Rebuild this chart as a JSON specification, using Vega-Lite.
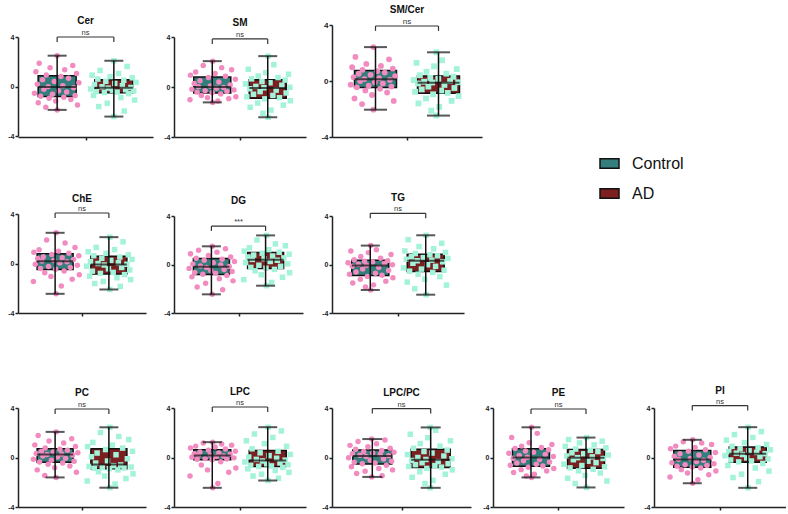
{
"$schema":"https://vega.github.io/schema/vega-lite/v6.json",
"background":"white",
"padding":{"left":7,"top":4,"right":0,"bottom":0},
"columns":5,
"spacing":{"row":77,"column":5},
"bounds":"flush",
"align":"each",
"datasets":{
"box":[
{"p":"Cer","g":"Control","lo":-1.89,"q1":-0.81,"md":-0.05,"q3":0.86,"hi":2.49,"s":"ns"},
{"p":"Cer","g":"AD","lo":-2.43,"q1":-0.5,"md":-0.1,"q3":0.54,"hi":2.08,"s":"ns"},
{"p":"SM","g":"Control","lo":-1.23,"q1":-0.48,"md":0,"q3":0.8,"hi":2.07,"s":"ns"},
{"p":"SM","g":"AD","lo":-2.42,"q1":-0.89,"md":-0.08,"q3":0.59,"hi":2.47,"s":"ns"},
{"p":"SM/Cer","g":"Control","lo":-2.05,"q1":-0.47,"md":0.12,"q3":0.75,"hi":2.42,"s":"ns"},
{"p":"SM/Cer","g":"AD","lo":-2.47,"q1":-0.87,"md":-0.12,"q3":0.35,"hi":2.05,"s":"ns"},
{"p":"ChE","g":"Control","lo":-2.45,"q1":-0.49,"md":0.19,"q3":0.78,"hi":2.48,"s":"ns"},
{"p":"ChE","g":"AD","lo":-2.1,"q1":-0.84,"md":-0.08,"q3":0.59,"hi":2.13,"s":"ns"},
{"p":"DG","g":"Control","lo":-2.46,"q1":-0.82,"md":-0.19,"q3":0.49,"hi":1.5,"s":"***"},
{"p":"DG","g":"AD","lo":-1.75,"q1":-0.33,"md":0.4,"q3":0.98,"hi":2.4,"s":"***"},
{"p":"TG","g":"Control","lo":-2.1,"q1":-0.9,"md":-0.08,"q3":0.36,"hi":1.56,"s":"ns"},
{"p":"TG","g":"AD","lo":-2.49,"q1":-0.58,"md":0.3,"q3":0.85,"hi":2.41,"s":"ns"},
{"p":"PC","g":"Control","lo":-1.61,"q1":-0.38,"md":0.24,"q3":0.7,"hi":2.07,"s":"ns"},
{"p":"PC","g":"AD","lo":-2.44,"q1":-0.91,"md":-0.56,"q3":0.7,"hi":2.44,"s":"ns"},
{"p":"LPC","g":"Control","lo":-2.45,"q1":-0.19,"md":0.16,"q3":0.62,"hi":1.24,"s":"ns"},
{"p":"LPC","g":"AD","lo":-1.86,"q1":-0.73,"md":-0.24,"q3":0.57,"hi":2.45,"s":"ns"},
{"p":"LPC/PC","g":"Control","lo":-1.57,"q1":-0.53,"md":0.13,"q3":0.61,"hi":1.49,"s":"ns"},
{"p":"LPC/PC","g":"AD","lo":-2.45,"q1":-0.8,"md":-0.19,"q3":0.67,"hi":2.43,"s":"ns"},
{"p":"PE","g":"Control","lo":-1.61,"q1":-0.7,"md":0,"q3":0.7,"hi":2.44,"s":"ns"},
{"p":"PE","g":"AD","lo":-2.42,"q1":-0.86,"md":-0.03,"q3":0.64,"hi":1.61,"s":"ns"},
{"p":"PI","g":"Control","lo":-2.08,"q1":-0.78,"md":-0.16,"q3":0.57,"hi":1.43,"s":"ns"},
{"p":"PI","g":"AD","lo":-2.45,"q1":-0.38,"md":0.3,"q3":0.84,"hi":2.45,"s":"ns"}
],
"pts":[
{"p":"Cer","g":"Control","v":[2.49,1.88,1.7,1.52,1.35,1.2,1.05,0.93,0.8,0.66,0.55,0.41,0.3,0.18,0.07,-0.01,-0.1,-0.22,-0.35,-0.44,-0.55,-0.63,-0.72,-0.79,-0.86,-0.95,-1.05,-1.18,-1.31,-1.5,-1.68,-1.89],"j":[0.5,0.12,0.83,0.35,0.66,0.05,0.91,0.27,0.58,0.74,0.19,0.44,0.96,0.08,0.62,0.31,0.85,0.22,0.53,0.7,0.02,0.4,0.88,0.15,0.64,0.33,0.79,0.47,0.1,0.93,0.26,0.5]},
{"p":"Cer","g":"AD","v":[2.08,1.62,1.3,1.05,0.92,0.8,0.7,0.6,0.5,0.42,0.33,0.25,0.15,0.06,-0.02,-0.08,-0.13,-0.2,-0.26,-0.3,-0.36,-0.41,-0.45,-0.49,-0.58,-0.72,-0.9,-1.1,-1.35,-1.62,-1.98,-2.43],"j":[0.5,0.78,0.21,0.6,0.04,0.42,0.89,0.16,0.71,0.33,0.97,0.52,0.09,0.68,0.25,0.86,0.38,0.01,0.75,0.47,0.92,0.13,0.57,0.3,0.81,0.07,0.65,0.94,0.36,0.18,0.72,0.5]},
{"p":"SM","g":"Control","v":[2.07,1.72,1.55,1.38,1.2,1.08,0.95,0.86,0.76,0.62,0.5,0.4,0.28,0.17,0.08,0.02,-0.04,-0.1,-0.17,-0.23,-0.3,-0.35,-0.41,-0.46,-0.55,-0.68,-0.78,-0.85,-0.93,-1.02,-1.12,-1.23],"j":[0.5,0.3,0.69,0.9,0.14,0.55,0.03,0.77,0.41,0.98,0.23,0.63,0.11,0.87,0.45,0.2,0.73,0.58,0.06,0.95,0.34,0.8,0.17,0.49,0.67,0.26,0.99,0.39,0.84,0.02,0.61,0.5]},
{"p":"SM","g":"AD","v":[2.47,1.78,1.42,1.15,1.02,0.88,0.75,0.65,0.55,0.43,0.34,0.25,0.14,0.05,-0.02,-0.06,-0.14,-0.25,-0.37,-0.48,-0.58,-0.68,-0.78,-0.86,-0.95,-1.1,-1.28,-1.45,-1.62,-1.85,-2.1,-2.42],"j":[0.5,0.62,0.08,0.45,0.93,0.29,0.71,0.15,0.86,0.37,0.54,0.02,0.79,0.24,0.96,0.41,0.11,0.67,0.33,0.88,0.19,0.6,0.05,0.74,0.43,0.97,0.28,0.82,0.12,0.56,0.39,0.5]},
{"p":"SM/Cer","g":"Control","v":[2.42,1.72,1.55,1.22,1.08,0.98,0.88,0.8,0.7,0.6,0.52,0.44,0.35,0.27,0.2,0.14,0.08,0.0,-0.09,-0.17,-0.26,-0.34,-0.4,-0.45,-0.56,-0.68,-0.82,-1.0,-1.25,-1.42,-1.65,-2.05],"j":[0.5,0.12,0.83,0.35,0.66,0.05,0.91,0.27,0.58,0.74,0.19,0.44,0.96,0.08,0.62,0.31,0.85,0.22,0.53,0.7,0.02,0.4,0.88,0.15,0.64,0.33,0.79,0.47,0.1,0.93,0.26,0.5]},
{"p":"SM/Cer","g":"AD","v":[2.05,1.48,1.3,1.05,0.85,0.66,0.52,0.41,0.3,0.22,0.15,0.07,0.0,-0.05,-0.09,-0.11,-0.18,-0.28,-0.4,-0.5,-0.6,-0.68,-0.77,-0.85,-0.95,-1.08,-1.25,-1.42,-1.6,-1.85,-2.12,-2.47],"j":[0.5,0.62,0.08,0.45,0.93,0.29,0.71,0.15,0.86,0.37,0.54,0.02,0.79,0.24,0.96,0.41,0.11,0.67,0.33,0.88,0.19,0.6,0.05,0.74,0.43,0.97,0.28,0.82,0.12,0.56,0.39,0.5]},
{"p":"ChE","g":"Control","v":[2.48,1.9,1.65,1.3,1.12,1.0,0.9,0.82,0.72,0.62,0.55,0.47,0.4,0.32,0.25,0.21,0.15,0.05,-0.06,-0.15,-0.24,-0.33,-0.41,-0.47,-0.6,-0.75,-0.9,-1.05,-1.28,-1.45,-1.82,-2.45],"j":[0.5,0.3,0.69,0.9,0.14,0.55,0.03,0.77,0.41,0.98,0.23,0.63,0.11,0.87,0.45,0.2,0.73,0.58,0.06,0.95,0.34,0.8,0.17,0.49,0.67,0.26,0.99,0.39,0.84,0.02,0.61,0.5]},
{"p":"ChE","g":"AD","v":[2.13,1.75,1.3,1.12,0.95,0.82,0.7,0.63,0.52,0.42,0.33,0.25,0.15,0.06,0.0,-0.06,-0.12,-0.22,-0.32,-0.43,-0.52,-0.62,-0.72,-0.8,-0.9,-1.02,-1.15,-1.3,-1.45,-1.62,-1.85,-2.1],"j":[0.5,0.78,0.21,0.6,0.04,0.42,0.89,0.16,0.71,0.33,0.97,0.52,0.09,0.68,0.25,0.86,0.38,0.01,0.75,0.47,0.92,0.13,0.57,0.3,0.81,0.07,0.65,0.94,0.36,0.18,0.72,0.5]},
{"p":"DG","g":"Control","v":[1.5,1.3,1.18,1.02,0.88,0.75,0.62,0.52,0.44,0.35,0.25,0.15,0.05,-0.04,-0.12,-0.17,-0.24,-0.32,-0.42,-0.5,-0.58,-0.66,-0.73,-0.8,-0.9,-1.02,-1.18,-1.35,-1.55,-1.85,-2.08,-2.46],"j":[0.5,0.78,0.21,0.6,0.04,0.42,0.89,0.16,0.71,0.33,0.97,0.52,0.09,0.68,0.25,0.86,0.38,0.01,0.75,0.47,0.92,0.13,0.57,0.3,0.81,0.07,0.65,0.94,0.36,0.18,0.72,0.5]},
{"p":"DG","g":"AD","v":[2.4,2.02,1.7,1.55,1.38,1.22,1.1,1.01,0.93,0.85,0.78,0.7,0.62,0.55,0.48,0.42,0.35,0.25,0.15,0.05,-0.06,-0.15,-0.24,-0.31,-0.4,-0.52,-0.68,-0.85,-1.05,-1.25,-1.48,-1.75],"j":[0.5,0.3,0.69,0.9,0.14,0.55,0.03,0.77,0.41,0.98,0.23,0.63,0.11,0.87,0.45,0.2,0.73,0.58,0.06,0.95,0.34,0.8,0.17,0.49,0.67,0.26,0.99,0.39,0.84,0.02,0.61,0.5]},
{"p":"TG","g":"Control","v":[1.56,1.22,1.12,0.98,0.82,0.66,0.52,0.4,0.32,0.26,0.2,0.14,0.08,0.02,-0.03,-0.07,-0.14,-0.25,-0.37,-0.5,-0.62,-0.72,-0.8,-0.88,-0.98,-1.1,-1.22,-1.38,-1.52,-1.68,-1.85,-2.1],"j":[0.5,0.62,0.08,0.45,0.93,0.29,0.71,0.15,0.86,0.37,0.54,0.02,0.79,0.24,0.96,0.41,0.11,0.67,0.33,0.88,0.19,0.6,0.05,0.74,0.43,0.97,0.28,0.82,0.12,0.56,0.39,0.5]},
{"p":"TG","g":"AD","v":[2.41,2.05,1.75,1.48,1.3,1.12,1.0,0.9,0.8,0.72,0.64,0.57,0.5,0.43,0.36,0.31,0.22,0.1,-0.02,-0.15,-0.28,-0.38,-0.47,-0.55,-0.65,-0.8,-1.0,-1.22,-1.45,-1.7,-2.0,-2.49],"j":[0.5,0.12,0.83,0.35,0.66,0.05,0.91,0.27,0.58,0.74,0.19,0.44,0.96,0.08,0.62,0.31,0.85,0.22,0.53,0.7,0.02,0.4,0.88,0.15,0.64,0.33,0.79,0.47,0.1,0.93,0.26,0.5]},
{"p":"PC","g":"Control","v":[2.07,1.78,1.52,1.33,1.18,1.02,0.88,0.76,0.66,0.58,0.5,0.44,0.38,0.33,0.28,0.25,0.2,0.12,0.04,-0.06,-0.15,-0.23,-0.3,-0.36,-0.45,-0.55,-0.68,-0.82,-1.0,-1.2,-1.45,-1.61],"j":[0.5,0.12,0.83,0.35,0.66,0.05,0.91,0.27,0.58,0.74,0.19,0.44,0.96,0.08,0.62,0.31,0.85,0.22,0.53,0.7,0.02,0.4,0.88,0.15,0.64,0.33,0.79,0.47,0.1,0.93,0.26,0.5]},
{"p":"PC","g":"AD","v":[2.44,2.02,1.7,1.45,1.22,1.0,0.88,0.76,0.64,0.5,0.36,0.22,0.06,-0.1,-0.28,-0.45,-0.6,-0.66,-0.72,-0.77,-0.81,-0.84,-0.87,-0.9,-1.0,-1.15,-1.32,-1.5,-1.7,-1.9,-2.15,-2.44],"j":[0.5,0.3,0.69,0.9,0.14,0.55,0.03,0.77,0.41,0.98,0.23,0.63,0.11,0.87,0.45,0.2,0.73,0.58,0.06,0.95,0.34,0.8,0.17,0.49,0.67,0.26,0.99,0.39,0.84,0.02,0.61,0.5]},
{"p":"LPC","g":"Control","v":[1.24,1.18,1.1,1.0,0.92,0.85,0.77,0.68,0.58,0.5,0.44,0.37,0.31,0.26,0.21,0.18,0.13,0.08,0.03,-0.03,-0.08,-0.12,-0.15,-0.18,-0.35,-0.6,-0.85,-1.0,-1.2,-1.5,-2.1,-2.45],"j":[0.5,0.3,0.69,0.9,0.14,0.55,0.03,0.77,0.41,0.98,0.23,0.63,0.11,0.87,0.45,0.2,0.73,0.58,0.06,0.95,0.34,0.8,0.17,0.49,0.67,0.26,0.99,0.39,0.84,0.02,0.61,0.5]},
{"p":"LPC","g":"AD","v":[2.45,2.15,1.9,1.62,1.35,1.12,0.9,0.7,0.5,0.38,0.25,0.15,0.04,-0.06,-0.15,-0.21,-0.28,-0.36,-0.44,-0.51,-0.58,-0.63,-0.68,-0.72,-0.8,-0.92,-1.05,-1.2,-1.35,-1.5,-1.68,-1.86],"j":[0.5,0.78,0.21,0.6,0.04,0.42,0.89,0.16,0.71,0.33,0.97,0.52,0.09,0.68,0.25,0.86,0.38,0.01,0.75,0.47,0.92,0.13,0.57,0.3,0.81,0.07,0.65,0.94,0.36,0.18,0.72,0.5]},
{"p":"LPC/PC","g":"Control","v":[1.49,1.42,1.3,1.12,0.98,0.86,0.75,0.66,0.56,0.48,0.42,0.36,0.3,0.24,0.19,0.15,0.08,-0.02,-0.12,-0.22,-0.3,-0.38,-0.45,-0.51,-0.62,-0.75,-0.88,-1.0,-1.12,-1.3,-1.48,-1.57],"j":[0.5,0.78,0.21,0.6,0.04,0.42,0.89,0.16,0.71,0.33,0.97,0.52,0.09,0.68,0.25,0.86,0.38,0.01,0.75,0.47,0.92,0.13,0.57,0.3,0.81,0.07,0.65,0.94,0.36,0.18,0.72,0.5]},
{"p":"LPC/PC","g":"AD","v":[2.43,2.2,1.88,1.6,1.35,1.12,0.92,0.74,0.6,0.48,0.36,0.24,0.12,0.0,-0.1,-0.16,-0.24,-0.33,-0.42,-0.5,-0.58,-0.66,-0.72,-0.78,-0.88,-1.0,-1.15,-1.35,-1.6,-1.85,-2.1,-2.45],"j":[0.5,0.62,0.08,0.45,0.93,0.29,0.71,0.15,0.86,0.37,0.54,0.02,0.79,0.24,0.96,0.41,0.11,0.67,0.33,0.88,0.19,0.6,0.05,0.74,0.43,0.97,0.28,0.82,0.12,0.56,0.39,0.5]},
{"p":"PE","g":"Control","v":[2.44,1.95,1.62,1.2,1.05,0.92,0.8,0.72,0.63,0.52,0.42,0.34,0.25,0.16,0.08,0.02,-0.06,-0.16,-0.26,-0.36,-0.45,-0.54,-0.62,-0.68,-0.78,-0.88,-0.98,-1.1,-1.22,-1.35,-1.5,-1.61],"j":[0.5,0.62,0.08,0.45,0.93,0.29,0.71,0.15,0.86,0.37,0.54,0.02,0.79,0.24,0.96,0.41,0.11,0.67,0.33,0.88,0.19,0.6,0.05,0.74,0.43,0.97,0.28,0.82,0.12,0.56,0.39,0.5]},
{"p":"PE","g":"AD","v":[1.61,1.45,1.32,1.18,1.02,0.9,0.78,0.68,0.58,0.48,0.38,0.3,0.2,0.12,0.05,-0.01,-0.08,-0.18,-0.3,-0.42,-0.54,-0.65,-0.75,-0.84,-0.95,-1.08,-1.25,-1.45,-1.68,-1.9,-2.1,-2.42],"j":[0.5,0.12,0.83,0.35,0.66,0.05,0.91,0.27,0.58,0.74,0.19,0.44,0.96,0.08,0.62,0.31,0.85,0.22,0.53,0.7,0.02,0.4,0.88,0.15,0.64,0.33,0.79,0.47,0.1,0.93,0.26,0.5]},
{"p":"PI","g":"Control","v":[1.43,1.28,1.18,1.05,0.92,0.8,0.7,0.62,0.5,0.4,0.3,0.2,0.1,0.0,-0.08,-0.14,-0.22,-0.32,-0.42,-0.5,-0.58,-0.65,-0.71,-0.76,-0.85,-0.98,-1.1,-1.25,-1.4,-1.58,-1.8,-2.08],"j":[0.5,0.3,0.69,0.9,0.14,0.55,0.03,0.77,0.41,0.98,0.23,0.63,0.11,0.87,0.45,0.2,0.73,0.58,0.06,0.95,0.34,0.8,0.17,0.49,0.67,0.26,0.99,0.39,0.84,0.02,0.61,0.5]},
{"p":"PI","g":"AD","v":[2.45,2.1,1.85,1.62,1.4,1.2,1.05,0.9,0.78,0.7,0.62,0.55,0.48,0.41,0.35,0.31,0.24,0.15,0.06,-0.03,-0.12,-0.2,-0.28,-0.35,-0.48,-0.65,-0.85,-1.1,-1.35,-1.62,-1.95,-2.45],"j":[0.5,0.78,0.21,0.6,0.04,0.42,0.89,0.16,0.71,0.33,0.97,0.52,0.09,0.68,0.25,0.86,0.38,0.01,0.75,0.47,0.92,0.13,0.57,0.3,0.81,0.07,0.65,0.94,0.36,0.18,0.72,0.5]}
]
},
"concat":[
{"width":151,"height":113,"title":{"text":"Cer","offset":-2,"dx":-8},"data":{"name":"box"},"transform":[{"filter":"datum.p==='Cer'"}],
"encoding":{"x":{"field":"g","type":"nominal","title":null,"scale":{"domain":["Control","AD"],"range":[0,135],"paddingInner":0.333,"paddingOuter":0.357},"axis":{"values":["Control"],"tickOffset":28.4,"labels":false}}},
"layer":[
{"mark":{"type":"bar","stroke":"#111","strokeWidth":1.5,"width":38},"encoding":{"y":{"field":"q1","type":"quantitative","title":null,"scale":{"domain":[-4,4],"nice":false,"zero":false,"range":[112,13]},"axis":{"values":[-4,-2,0,2,4],"labelExpr":"datum.value"}},"y2":{"field":"q3"},"color":{"field":"g","type":"nominal","title":null,"scale":{"domain":["Control","AD"],"range":["#347f7d","#7b2020"]},"legend":{"title":null,"orient":"none","legendX":581,"legendY":129,"padding":0,"symbolType":"M-1,-0.5H1V0.5H-1Z","symbolSize":361,"symbolStrokeColor":"#111","symbolStrokeWidth":1.5,"symbolOpacity":1,"labelFont":"Liberation Sans","labelFontSize":16,"labelColor":"#111","labelOffset":12,"rowPadding":11}}}},
{"data":{"name":"pts"},"transform":[{"filter":"datum.p==='Cer' && datum.g==='Control'"},{"flatten":["v","j"]}],"mark":{"type":"circle","color":"#f28cc0","size":30,"opacity":1},"encoding":{"xOffset":{"field":"j","type":"quantitative","scale":{"domain":[0.1,0.9]}},"y":{"field":"v","type":"quantitative","title":null}}},
{"data":{"name":"pts"},"transform":[{"filter":"datum.p==='Cer' && datum.g==='AD'"},{"flatten":["v","j"]}],"mark":{"type":"square","color":"#a3f2da","size":30,"opacity":1},"encoding":{"xOffset":{"field":"j","type":"quantitative","scale":{"domain":[0.1,0.9]}},"y":{"field":"v","type":"quantitative","title":null}}},
{"mark":{"type":"rule","color":"#111","strokeWidth":1.5},"encoding":{"y":{"field":"lo","type":"quantitative","title":null},"y2":{"field":"hi"}}},
{"transform":[{"fold":["lo","hi"],"as":["k","cv"]}],"mark":{"type":"tick","color":"#111","thickness":2,"size":19},"encoding":{"y":{"field":"cv","type":"quantitative","title":null}}},
{"mark":{"type":"tick","color":"#111","thickness":2,"size":38},"encoding":{"y":{"field":"md","type":"quantitative","title":null}}},
{"transform":[{"filter":"datum.g==='Control'"}],"mark":{"type":"rule","color":"#333","strokeWidth":1.2},"encoding":{"x":{"datum":"Control"},"x2":{"datum":"AD"},"y":{"datum":4}}},
{"mark":{"type":"rule","color":"#333","strokeWidth":1.2},"encoding":{"y":{"datum":3.6},"y2":{"datum":4}}},
{"transform":[{"filter":"datum.g==='Control'"}],"mark":{"type":"text","fontSize":7.5,"color":"#333","baseline":"alphabetic","dy":-2,"dx":28.4},"encoding":{"x":{"datum":"Control"},"y":{"datum":4},"text":{"field":"s"}}}
]},
{"width":153,"height":113,"title":{"text":"SM","offset":-3.5,"dx":-10.5},"data":{"name":"box"},"transform":[{"filter":"datum.p==='SM'"}],
"encoding":{"x":{"field":"g","type":"nominal","title":null,"scale":{"domain":["Control","AD"],"range":[0,132],"paddingInner":0.333,"paddingOuter":0.357},"axis":{"values":["Control"],"tickOffset":27.7,"labels":false}}},
"layer":[
{"mark":{"type":"bar","stroke":"#111","strokeWidth":1.5,"width":37},"encoding":{"y":{"field":"q1","type":"quantitative","title":null,"scale":{"domain":[-4,4],"nice":false,"zero":false,"range":[113,13]},"axis":{"values":[-4,-2,0,2,4],"labelExpr":"datum.value"}},"y2":{"field":"q3"},"color":{"field":"g","type":"nominal","title":null,"scale":{"domain":["Control","AD"],"range":["#347f7d","#7b2020"]},"legend":null}}},
{"data":{"name":"pts"},"transform":[{"filter":"datum.p==='SM' && datum.g==='Control'"},{"flatten":["v","j"]}],"mark":{"type":"circle","color":"#f28cc0","size":30,"opacity":1},"encoding":{"xOffset":{"field":"j","type":"quantitative","scale":{"domain":[0.1,0.9]}},"y":{"field":"v","type":"quantitative","title":null}}},
{"data":{"name":"pts"},"transform":[{"filter":"datum.p==='SM' && datum.g==='AD'"},{"flatten":["v","j"]}],"mark":{"type":"square","color":"#a3f2da","size":30,"opacity":1},"encoding":{"xOffset":{"field":"j","type":"quantitative","scale":{"domain":[0.1,0.9]}},"y":{"field":"v","type":"quantitative","title":null}}},
{"mark":{"type":"rule","color":"#111","strokeWidth":1.5},"encoding":{"y":{"field":"lo","type":"quantitative","title":null},"y2":{"field":"hi"}}},
{"transform":[{"fold":["lo","hi"],"as":["k","cv"]}],"mark":{"type":"tick","color":"#111","thickness":2,"size":19},"encoding":{"y":{"field":"cv","type":"quantitative","title":null}}},
{"mark":{"type":"tick","color":"#111","thickness":2,"size":37},"encoding":{"y":{"field":"md","type":"quantitative","title":null}}},
{"transform":[{"filter":"datum.g==='Control'"}],"mark":{"type":"rule","color":"#333","strokeWidth":1.2},"encoding":{"x":{"datum":"Control"},"x2":{"datum":"AD"},"y":{"datum":3.85}}},
{"mark":{"type":"rule","color":"#333","strokeWidth":1.2},"encoding":{"y":{"datum":3.45},"y2":{"datum":3.85}}},
{"transform":[{"filter":"datum.g==='Control'"}],"mark":{"type":"text","fontSize":7.5,"color":"#333","baseline":"alphabetic","dy":-2,"dx":27.7},"encoding":{"x":{"datum":"Control"},"y":{"datum":3.85},"text":{"field":"s"}}}
]},
{"width":156,"height":113,"title":{"text":"SM/Cer","offset":3,"dx":-3},"data":{"name":"box"},"transform":[{"filter":"datum.p==='SM/Cer'"}],
"encoding":{"x":{"field":"g","type":"nominal","title":null,"scale":{"domain":["Control","AD"],"range":[0,150],"paddingInner":0.333,"paddingOuter":0.357},"axis":{"values":["Control"],"tickOffset":31.5,"labels":false}}},
"layer":[
{"mark":{"type":"bar","stroke":"#111","strokeWidth":1.5,"width":42},"encoding":{"y":{"field":"q1","type":"quantitative","title":null,"scale":{"domain":[-4,4],"nice":false,"zero":false,"range":[113,1]},"axis":{"values":[-4,-2,0,2,4],"labelExpr":"datum.value","labelFontSize":8}},"y2":{"field":"q3"},"color":{"field":"g","type":"nominal","title":null,"scale":{"domain":["Control","AD"],"range":["#347f7d","#7b2020"]},"legend":null}}},
{"data":{"name":"pts"},"transform":[{"filter":"datum.p==='SM/Cer' && datum.g==='Control'"},{"flatten":["v","j"]}],"mark":{"type":"circle","color":"#f28cc0","size":34,"opacity":1},"encoding":{"xOffset":{"field":"j","type":"quantitative","scale":{"domain":[0.1,0.9]}},"y":{"field":"v","type":"quantitative","title":null}}},
{"data":{"name":"pts"},"transform":[{"filter":"datum.p==='SM/Cer' && datum.g==='AD'"},{"flatten":["v","j"]}],"mark":{"type":"square","color":"#a3f2da","size":34,"opacity":1},"encoding":{"xOffset":{"field":"j","type":"quantitative","scale":{"domain":[0.1,0.9]}},"y":{"field":"v","type":"quantitative","title":null}}},
{"mark":{"type":"rule","color":"#111","strokeWidth":1.5},"encoding":{"y":{"field":"lo","type":"quantitative","title":null},"y2":{"field":"hi"}}},
{"transform":[{"fold":["lo","hi"],"as":["k","cv"]}],"mark":{"type":"tick","color":"#111","thickness":2,"size":23},"encoding":{"y":{"field":"cv","type":"quantitative","title":null}}},
{"mark":{"type":"tick","color":"#111","thickness":2,"size":42},"encoding":{"y":{"field":"md","type":"quantitative","title":null}}},
{"transform":[{"filter":"datum.g==='Control'"}],"mark":{"type":"rule","color":"#333","strokeWidth":1.2},"encoding":{"x":{"datum":"Control"},"x2":{"datum":"AD"},"y":{"datum":3.93}}},
{"mark":{"type":"rule","color":"#333","strokeWidth":1.2},"encoding":{"y":{"datum":3.58},"y2":{"datum":3.93}}},
{"transform":[{"filter":"datum.g==='Control'"}],"mark":{"type":"text","fontSize":8,"color":"#333","baseline":"alphabetic","dy":-2,"dx":31.5},"encoding":{"x":{"datum":"Control"},"y":{"datum":3.93},"text":{"field":"s"}}}
]},
{"width":156,"height":113,"data":{"values":[]},"mark":"point","encoding":{}},
{"width":132,"height":113,"data":{"values":[]},"mark":"point","encoding":{}},
{"width":151,"height":99,"title":{"text":"ChE","offset":1.5,"dx":-11.5},"data":{"name":"box"},"transform":[{"filter":"datum.p==='ChE'"}],
"encoding":{"x":{"field":"g","type":"nominal","title":null,"scale":{"domain":["Control","AD"],"range":[0,128],"paddingInner":0.333,"paddingOuter":0.357},"axis":{"values":["Control"],"tickOffset":26.9,"labels":false}}},
"layer":[
{"mark":{"type":"bar","stroke":"#111","strokeWidth":1.5,"width":36},"encoding":{"y":{"field":"q1","type":"quantitative","title":null,"scale":{"domain":[-4,4],"nice":false,"zero":false,"range":[99,0]},"axis":{"values":[-4,-2,0,2,4],"labelExpr":"datum.value"}},"y2":{"field":"q3"},"color":{"field":"g","type":"nominal","title":null,"scale":{"domain":["Control","AD"],"range":["#347f7d","#7b2020"]},"legend":null}}},
{"data":{"name":"pts"},"transform":[{"filter":"datum.p==='ChE' && datum.g==='Control'"},{"flatten":["v","j"]}],"mark":{"type":"circle","color":"#f28cc0","size":30,"opacity":1},"encoding":{"xOffset":{"field":"j","type":"quantitative","scale":{"domain":[0.1,0.9]}},"y":{"field":"v","type":"quantitative","title":null}}},
{"data":{"name":"pts"},"transform":[{"filter":"datum.p==='ChE' && datum.g==='AD'"},{"flatten":["v","j"]}],"mark":{"type":"square","color":"#a3f2da","size":30,"opacity":1},"encoding":{"xOffset":{"field":"j","type":"quantitative","scale":{"domain":[0.1,0.9]}},"y":{"field":"v","type":"quantitative","title":null}}},
{"mark":{"type":"rule","color":"#111","strokeWidth":1.5},"encoding":{"y":{"field":"lo","type":"quantitative","title":null},"y2":{"field":"hi"}}},
{"transform":[{"fold":["lo","hi"],"as":["k","cv"]}],"mark":{"type":"tick","color":"#111","thickness":2,"size":19},"encoding":{"y":{"field":"cv","type":"quantitative","title":null}}},
{"mark":{"type":"tick","color":"#111","thickness":2,"size":36},"encoding":{"y":{"field":"md","type":"quantitative","title":null}}},
{"transform":[{"filter":"datum.g==='Control'"}],"mark":{"type":"rule","color":"#333","strokeWidth":1.2},"encoding":{"x":{"datum":"Control"},"x2":{"datum":"AD"},"y":{"datum":4.08}}},
{"mark":{"type":"rule","color":"#333","strokeWidth":1.2},"encoding":{"y":{"datum":3.68},"y2":{"datum":4.08}}},
{"transform":[{"filter":"datum.g==='Control'"}],"mark":{"type":"text","fontSize":7.5,"color":"#333","baseline":"alphabetic","dy":-2,"dx":26.9},"encoding":{"x":{"datum":"Control"},"y":{"datum":4.08},"text":{"field":"s"}}}
]},
{"width":153,"height":99,"title":{"text":"DG","offset":6.5,"dx":-12},"data":{"name":"box"},"transform":[{"filter":"datum.p==='DG'"}],
"encoding":{"x":{"field":"g","type":"nominal","title":null,"scale":{"domain":["Control","AD"],"range":[0,129],"paddingInner":0.333,"paddingOuter":0.357},"axis":{"values":["Control"],"tickOffset":27.1,"labels":false}}},
"layer":[
{"mark":{"type":"bar","stroke":"#111","strokeWidth":1.5,"width":36},"encoding":{"y":{"field":"q1","type":"quantitative","title":null,"scale":{"domain":[-4,4],"nice":false,"zero":false,"range":[99,2]},"axis":{"values":[-4,-2,0,2,4],"labelExpr":"datum.value"}},"y2":{"field":"q3"},"color":{"field":"g","type":"nominal","title":null,"scale":{"domain":["Control","AD"],"range":["#347f7d","#7b2020"]},"legend":null}}},
{"data":{"name":"pts"},"transform":[{"filter":"datum.p==='DG' && datum.g==='Control'"},{"flatten":["v","j"]}],"mark":{"type":"circle","color":"#f28cc0","size":30,"opacity":1},"encoding":{"xOffset":{"field":"j","type":"quantitative","scale":{"domain":[0.1,0.9]}},"y":{"field":"v","type":"quantitative","title":null}}},
{"data":{"name":"pts"},"transform":[{"filter":"datum.p==='DG' && datum.g==='AD'"},{"flatten":["v","j"]}],"mark":{"type":"square","color":"#a3f2da","size":30,"opacity":1},"encoding":{"xOffset":{"field":"j","type":"quantitative","scale":{"domain":[0.1,0.9]}},"y":{"field":"v","type":"quantitative","title":null}}},
{"mark":{"type":"rule","color":"#111","strokeWidth":1.5},"encoding":{"y":{"field":"lo","type":"quantitative","title":null},"y2":{"field":"hi"}}},
{"transform":[{"fold":["lo","hi"],"as":["k","cv"]}],"mark":{"type":"tick","color":"#111","thickness":2,"size":19},"encoding":{"y":{"field":"cv","type":"quantitative","title":null}}},
{"mark":{"type":"tick","color":"#111","thickness":2,"size":36},"encoding":{"y":{"field":"md","type":"quantitative","title":null}}},
{"transform":[{"filter":"datum.g==='Control'"}],"mark":{"type":"rule","color":"#333","strokeWidth":1.2},"encoding":{"x":{"datum":"Control"},"x2":{"datum":"AD"},"y":{"datum":3.17}}},
{"mark":{"type":"rule","color":"#333","strokeWidth":1.2},"encoding":{"y":{"datum":2.77},"y2":{"datum":3.17}}},
{"transform":[{"filter":"datum.g==='Control'"}],"mark":{"type":"text","fontSize":7.5,"color":"#333","baseline":"alphabetic","dy":-2,"dx":27.1},"encoding":{"x":{"datum":"Control"},"y":{"datum":3.17},"text":{"field":"s"}}}
]},
{"width":156,"height":99,"title":{"text":"TG","offset":2.5,"dx":-12},"data":{"name":"box"},"transform":[{"filter":"datum.p==='TG'"}],
"encoding":{"x":{"field":"g","type":"nominal","title":null,"scale":{"domain":["Control","AD"],"range":[0,132],"paddingInner":0.333,"paddingOuter":0.357},"axis":{"values":["Control"],"tickOffset":27.7,"labels":false}}},
"layer":[
{"mark":{"type":"bar","stroke":"#111","strokeWidth":1.5,"width":37},"encoding":{"y":{"field":"q1","type":"quantitative","title":null,"scale":{"domain":[-4,4],"nice":false,"zero":false,"range":[99,2]},"axis":{"values":[-4,-2,0,2,4],"labelExpr":"datum.value"}},"y2":{"field":"q3"},"color":{"field":"g","type":"nominal","title":null,"scale":{"domain":["Control","AD"],"range":["#347f7d","#7b2020"]},"legend":null}}},
{"data":{"name":"pts"},"transform":[{"filter":"datum.p==='TG' && datum.g==='Control'"},{"flatten":["v","j"]}],"mark":{"type":"circle","color":"#f28cc0","size":30,"opacity":1},"encoding":{"xOffset":{"field":"j","type":"quantitative","scale":{"domain":[0.1,0.9]}},"y":{"field":"v","type":"quantitative","title":null}}},
{"data":{"name":"pts"},"transform":[{"filter":"datum.p==='TG' && datum.g==='AD'"},{"flatten":["v","j"]}],"mark":{"type":"square","color":"#a3f2da","size":30,"opacity":1},"encoding":{"xOffset":{"field":"j","type":"quantitative","scale":{"domain":[0.1,0.9]}},"y":{"field":"v","type":"quantitative","title":null}}},
{"mark":{"type":"rule","color":"#111","strokeWidth":1.5},"encoding":{"y":{"field":"lo","type":"quantitative","title":null},"y2":{"field":"hi"}}},
{"transform":[{"fold":["lo","hi"],"as":["k","cv"]}],"mark":{"type":"tick","color":"#111","thickness":2,"size":19},"encoding":{"y":{"field":"cv","type":"quantitative","title":null}}},
{"mark":{"type":"tick","color":"#111","thickness":2,"size":37},"encoding":{"y":{"field":"md","type":"quantitative","title":null}}},
{"transform":[{"filter":"datum.g==='Control'"}],"mark":{"type":"rule","color":"#333","strokeWidth":1.2},"encoding":{"x":{"datum":"Control"},"x2":{"datum":"AD"},"y":{"datum":4.22}}},
{"mark":{"type":"rule","color":"#333","strokeWidth":1.2},"encoding":{"y":{"datum":3.82},"y2":{"datum":4.22}}},
{"transform":[{"filter":"datum.g==='Control'"}],"mark":{"type":"text","fontSize":7.5,"color":"#333","baseline":"alphabetic","dy":-2,"dx":27.7},"encoding":{"x":{"datum":"Control"},"y":{"datum":4.22},"text":{"field":"s"}}}
]},
{"width":156,"height":99,"data":{"values":[]},"mark":"point","encoding":{}},
{"width":132,"height":99,"data":{"values":[]},"mark":"point","encoding":{}},
{"width":151,"height":117,"title":{"text":"PC","offset":-8,"dx":-11.5},"data":{"name":"box"},"transform":[{"filter":"datum.p==='PC'"}],
"encoding":{"x":{"field":"g","type":"nominal","title":null,"scale":{"domain":["Control","AD"],"range":[0,128],"paddingInner":0.333,"paddingOuter":0.357},"axis":{"values":["Control"],"tickOffset":26.9,"labels":false}}},
"layer":[
{"mark":{"type":"bar","stroke":"#111","strokeWidth":1.5,"width":36},"encoding":{"y":{"field":"q1","type":"quantitative","title":null,"scale":{"domain":[-4,4],"nice":false,"zero":false,"range":[117,18]},"axis":{"values":[-4,-2,0,2,4],"labelExpr":"datum.value"}},"y2":{"field":"q3"},"color":{"field":"g","type":"nominal","title":null,"scale":{"domain":["Control","AD"],"range":["#347f7d","#7b2020"]},"legend":null}}},
{"data":{"name":"pts"},"transform":[{"filter":"datum.p==='PC' && datum.g==='Control'"},{"flatten":["v","j"]}],"mark":{"type":"circle","color":"#f28cc0","size":30,"opacity":1},"encoding":{"xOffset":{"field":"j","type":"quantitative","scale":{"domain":[0.1,0.9]}},"y":{"field":"v","type":"quantitative","title":null}}},
{"data":{"name":"pts"},"transform":[{"filter":"datum.p==='PC' && datum.g==='AD'"},{"flatten":["v","j"]}],"mark":{"type":"square","color":"#a3f2da","size":30,"opacity":1},"encoding":{"xOffset":{"field":"j","type":"quantitative","scale":{"domain":[0.1,0.9]}},"y":{"field":"v","type":"quantitative","title":null}}},
{"mark":{"type":"rule","color":"#111","strokeWidth":1.5},"encoding":{"y":{"field":"lo","type":"quantitative","title":null},"y2":{"field":"hi"}}},
{"transform":[{"fold":["lo","hi"],"as":["k","cv"]}],"mark":{"type":"tick","color":"#111","thickness":2,"size":19},"encoding":{"y":{"field":"cv","type":"quantitative","title":null}}},
{"mark":{"type":"tick","color":"#111","thickness":2,"size":36},"encoding":{"y":{"field":"md","type":"quantitative","title":null}}},
{"transform":[{"filter":"datum.g==='Control'"}],"mark":{"type":"rule","color":"#333","strokeWidth":1.2},"encoding":{"x":{"datum":"Control"},"x2":{"datum":"AD"},"y":{"datum":3.92}}},
{"mark":{"type":"rule","color":"#333","strokeWidth":1.2},"encoding":{"y":{"datum":3.52},"y2":{"datum":3.92}}},
{"transform":[{"filter":"datum.g==='Control'"}],"mark":{"type":"text","fontSize":7.5,"color":"#333","baseline":"alphabetic","dy":-2,"dx":26.9},"encoding":{"x":{"datum":"Control"},"y":{"datum":3.92},"text":{"field":"s"}}}
]},
{"width":153,"height":117,"title":{"text":"LPC","offset":-6.7,"dx":-10.5},"data":{"name":"box"},"transform":[{"filter":"datum.p==='LPC'"}],
"encoding":{"x":{"field":"g","type":"nominal","title":null,"scale":{"domain":["Control","AD"],"range":[0,132],"paddingInner":0.333,"paddingOuter":0.357},"axis":{"values":["Control"],"tickOffset":27.7,"labels":false}}},
"layer":[
{"mark":{"type":"bar","stroke":"#111","strokeWidth":1.5,"width":37},"encoding":{"y":{"field":"q1","type":"quantitative","title":null,"scale":{"domain":[-4,4],"nice":false,"zero":false,"range":[117,18]},"axis":{"values":[-4,-2,0,2,4],"labelExpr":"datum.value"}},"y2":{"field":"q3"},"color":{"field":"g","type":"nominal","title":null,"scale":{"domain":["Control","AD"],"range":["#347f7d","#7b2020"]},"legend":null}}},
{"data":{"name":"pts"},"transform":[{"filter":"datum.p==='LPC' && datum.g==='Control'"},{"flatten":["v","j"]}],"mark":{"type":"circle","color":"#f28cc0","size":30,"opacity":1},"encoding":{"xOffset":{"field":"j","type":"quantitative","scale":{"domain":[0.1,0.9]}},"y":{"field":"v","type":"quantitative","title":null}}},
{"data":{"name":"pts"},"transform":[{"filter":"datum.p==='LPC' && datum.g==='AD'"},{"flatten":["v","j"]}],"mark":{"type":"square","color":"#a3f2da","size":30,"opacity":1},"encoding":{"xOffset":{"field":"j","type":"quantitative","scale":{"domain":[0.1,0.9]}},"y":{"field":"v","type":"quantitative","title":null}}},
{"mark":{"type":"rule","color":"#111","strokeWidth":1.5},"encoding":{"y":{"field":"lo","type":"quantitative","title":null},"y2":{"field":"hi"}}},
{"transform":[{"fold":["lo","hi"],"as":["k","cv"]}],"mark":{"type":"tick","color":"#111","thickness":2,"size":19},"encoding":{"y":{"field":"cv","type":"quantitative","title":null}}},
{"mark":{"type":"tick","color":"#111","thickness":2,"size":37},"encoding":{"y":{"field":"md","type":"quantitative","title":null}}},
{"transform":[{"filter":"datum.g==='Control'"}],"mark":{"type":"rule","color":"#333","strokeWidth":1.2},"encoding":{"x":{"datum":"Control"},"x2":{"datum":"AD"},"y":{"datum":4.08}}},
{"mark":{"type":"rule","color":"#333","strokeWidth":1.2},"encoding":{"y":{"datum":3.68},"y2":{"datum":4.08}}},
{"transform":[{"filter":"datum.g==='Control'"}],"mark":{"type":"text","fontSize":7.5,"color":"#333","baseline":"alphabetic","dy":-2,"dx":27.7},"encoding":{"x":{"datum":"Control"},"y":{"datum":4.08},"text":{"field":"s"}}}
]},
{"width":156,"height":117,"title":{"text":"LPC/PC","offset":-8,"dx":-8.5},"data":{"name":"box"},"transform":[{"filter":"datum.p==='LPC/PC'"}],
"encoding":{"x":{"field":"g","type":"nominal","title":null,"scale":{"domain":["Control","AD"],"range":[0,139],"paddingInner":0.333,"paddingOuter":0.357},"axis":{"values":["Control"],"tickOffset":29.2,"labels":false}}},
"layer":[
{"mark":{"type":"bar","stroke":"#111","strokeWidth":1.5,"width":39},"encoding":{"y":{"field":"q1","type":"quantitative","title":null,"scale":{"domain":[-4,4],"nice":false,"zero":false,"range":[117,18]},"axis":{"values":[-4,-2,0,2,4],"labelExpr":"datum.value"}},"y2":{"field":"q3"},"color":{"field":"g","type":"nominal","title":null,"scale":{"domain":["Control","AD"],"range":["#347f7d","#7b2020"]},"legend":null}}},
{"data":{"name":"pts"},"transform":[{"filter":"datum.p==='LPC/PC' && datum.g==='Control'"},{"flatten":["v","j"]}],"mark":{"type":"circle","color":"#f28cc0","size":30,"opacity":1},"encoding":{"xOffset":{"field":"j","type":"quantitative","scale":{"domain":[0.1,0.9]}},"y":{"field":"v","type":"quantitative","title":null}}},
{"data":{"name":"pts"},"transform":[{"filter":"datum.p==='LPC/PC' && datum.g==='AD'"},{"flatten":["v","j"]}],"mark":{"type":"square","color":"#a3f2da","size":30,"opacity":1},"encoding":{"xOffset":{"field":"j","type":"quantitative","scale":{"domain":[0.1,0.9]}},"y":{"field":"v","type":"quantitative","title":null}}},
{"mark":{"type":"rule","color":"#111","strokeWidth":1.5},"encoding":{"y":{"field":"lo","type":"quantitative","title":null},"y2":{"field":"hi"}}},
{"transform":[{"fold":["lo","hi"],"as":["k","cv"]}],"mark":{"type":"tick","color":"#111","thickness":2,"size":20},"encoding":{"y":{"field":"cv","type":"quantitative","title":null}}},
{"mark":{"type":"tick","color":"#111","thickness":2,"size":39},"encoding":{"y":{"field":"md","type":"quantitative","title":null}}},
{"transform":[{"filter":"datum.g==='Control'"}],"mark":{"type":"rule","color":"#333","strokeWidth":1.2},"encoding":{"x":{"datum":"Control"},"x2":{"datum":"AD"},"y":{"datum":3.95}}},
{"mark":{"type":"rule","color":"#333","strokeWidth":1.2},"encoding":{"y":{"datum":3.55},"y2":{"datum":3.95}}},
{"transform":[{"filter":"datum.g==='Control'"}],"mark":{"type":"text","fontSize":7.5,"color":"#333","baseline":"alphabetic","dy":-2,"dx":29.2},"encoding":{"x":{"datum":"Control"},"y":{"datum":3.95},"text":{"field":"s"}}}
]},
{"width":156,"height":117,"title":{"text":"PE","offset":-8,"dx":-12.5},"data":{"name":"box"},"transform":[{"filter":"datum.p==='PE'"}],
"encoding":{"x":{"field":"g","type":"nominal","title":null,"scale":{"domain":["Control","AD"],"range":[0,131],"paddingInner":0.333,"paddingOuter":0.357},"axis":{"values":["Control"],"tickOffset":27.5,"labels":false}}},
"layer":[
{"mark":{"type":"bar","stroke":"#111","strokeWidth":1.5,"width":37},"encoding":{"y":{"field":"q1","type":"quantitative","title":null,"scale":{"domain":[-4,4],"nice":false,"zero":false,"range":[117,18]},"axis":{"values":[-4,-2,0,2,4],"labelExpr":"datum.value"}},"y2":{"field":"q3"},"color":{"field":"g","type":"nominal","title":null,"scale":{"domain":["Control","AD"],"range":["#347f7d","#7b2020"]},"legend":null}}},
{"data":{"name":"pts"},"transform":[{"filter":"datum.p==='PE' && datum.g==='Control'"},{"flatten":["v","j"]}],"mark":{"type":"circle","color":"#f28cc0","size":30,"opacity":1},"encoding":{"xOffset":{"field":"j","type":"quantitative","scale":{"domain":[0.1,0.9]}},"y":{"field":"v","type":"quantitative","title":null}}},
{"data":{"name":"pts"},"transform":[{"filter":"datum.p==='PE' && datum.g==='AD'"},{"flatten":["v","j"]}],"mark":{"type":"square","color":"#a3f2da","size":30,"opacity":1},"encoding":{"xOffset":{"field":"j","type":"quantitative","scale":{"domain":[0.1,0.9]}},"y":{"field":"v","type":"quantitative","title":null}}},
{"mark":{"type":"rule","color":"#111","strokeWidth":1.5},"encoding":{"y":{"field":"lo","type":"quantitative","title":null},"y2":{"field":"hi"}}},
{"transform":[{"fold":["lo","hi"],"as":["k","cv"]}],"mark":{"type":"tick","color":"#111","thickness":2,"size":19},"encoding":{"y":{"field":"cv","type":"quantitative","title":null}}},
{"mark":{"type":"tick","color":"#111","thickness":2,"size":37},"encoding":{"y":{"field":"md","type":"quantitative","title":null}}},
{"transform":[{"filter":"datum.g==='Control'"}],"mark":{"type":"rule","color":"#333","strokeWidth":1.2},"encoding":{"x":{"datum":"Control"},"x2":{"datum":"AD"},"y":{"datum":3.92}}},
{"mark":{"type":"rule","color":"#333","strokeWidth":1.2},"encoding":{"y":{"datum":3.52},"y2":{"datum":3.92}}},
{"transform":[{"filter":"datum.g==='Control'"}],"mark":{"type":"text","fontSize":7.5,"color":"#333","baseline":"alphabetic","dy":-2,"dx":27.5},"encoding":{"x":{"datum":"Control"},"y":{"datum":3.92},"text":{"field":"s"}}}
]},
{"width":132,"height":117,"title":{"text":"PI","offset":-5.5,"dx":0},"data":{"name":"box"},"transform":[{"filter":"datum.p==='PI'"}],
"encoding":{"x":{"field":"g","type":"nominal","title":null,"scale":{"domain":["Control","AD"],"range":[0,132],"paddingInner":0.333,"paddingOuter":0.357},"axis":{"values":["Control"],"tickOffset":27.7,"labels":false}}},
"layer":[
{"mark":{"type":"bar","stroke":"#111","strokeWidth":1.5,"width":37},"encoding":{"y":{"field":"q1","type":"quantitative","title":null,"scale":{"domain":[-4,4],"nice":false,"zero":false,"range":[117,18]},"axis":{"values":[-4,-2,0,2,4],"labelExpr":"datum.value"}},"y2":{"field":"q3"},"color":{"field":"g","type":"nominal","title":null,"scale":{"domain":["Control","AD"],"range":["#347f7d","#7b2020"]},"legend":null}}},
{"data":{"name":"pts"},"transform":[{"filter":"datum.p==='PI' && datum.g==='Control'"},{"flatten":["v","j"]}],"mark":{"type":"circle","color":"#f28cc0","size":30,"opacity":1},"encoding":{"xOffset":{"field":"j","type":"quantitative","scale":{"domain":[0.1,0.9]}},"y":{"field":"v","type":"quantitative","title":null}}},
{"data":{"name":"pts"},"transform":[{"filter":"datum.p==='PI' && datum.g==='AD'"},{"flatten":["v","j"]}],"mark":{"type":"square","color":"#a3f2da","size":30,"opacity":1},"encoding":{"xOffset":{"field":"j","type":"quantitative","scale":{"domain":[0.1,0.9]}},"y":{"field":"v","type":"quantitative","title":null}}},
{"mark":{"type":"rule","color":"#111","strokeWidth":1.5},"encoding":{"y":{"field":"lo","type":"quantitative","title":null},"y2":{"field":"hi"}}},
{"transform":[{"fold":["lo","hi"],"as":["k","cv"]}],"mark":{"type":"tick","color":"#111","thickness":2,"size":19},"encoding":{"y":{"field":"cv","type":"quantitative","title":null}}},
{"mark":{"type":"tick","color":"#111","thickness":2,"size":37},"encoding":{"y":{"field":"md","type":"quantitative","title":null}}},
{"transform":[{"filter":"datum.g==='Control'"}],"mark":{"type":"rule","color":"#333","strokeWidth":1.2},"encoding":{"x":{"datum":"Control"},"x2":{"datum":"AD"},"y":{"datum":4.2}}},
{"mark":{"type":"rule","color":"#333","strokeWidth":1.2},"encoding":{"y":{"datum":3.8},"y2":{"datum":4.2}}},
{"transform":[{"filter":"datum.g==='Control'"}],"mark":{"type":"text","fontSize":7.5,"color":"#333","baseline":"alphabetic","dy":-2,"dx":27.7},"encoding":{"x":{"datum":"Control"},"y":{"datum":4.2},"text":{"field":"s"}}}
]}
],
"config":{
"view":{"stroke":null},
"font":"Liberation Sans Narrow, Arial Narrow, Liberation Sans, Arial, sans-serif",
"axis":{"domainColor":"#222","domainWidth":1.5,"tickColor":"#222","tickWidth":1.5,"tickSize":3,"labelFont":"Liberation Sans Narrow, Arial Narrow, Liberation Sans, Arial, sans-serif","labelFontSize":7,"labelFontWeight":"bold","labelColor":"#222","labelPadding":1,"grid":false},
"title":{"font":"Liberation Sans Narrow, Arial Narrow, Liberation Sans, Arial, sans-serif","fontSize":10,"fontWeight":"bold","color":"#111","baseline":"alphabetic","anchor":"middle","frame":"group"}
}
}
